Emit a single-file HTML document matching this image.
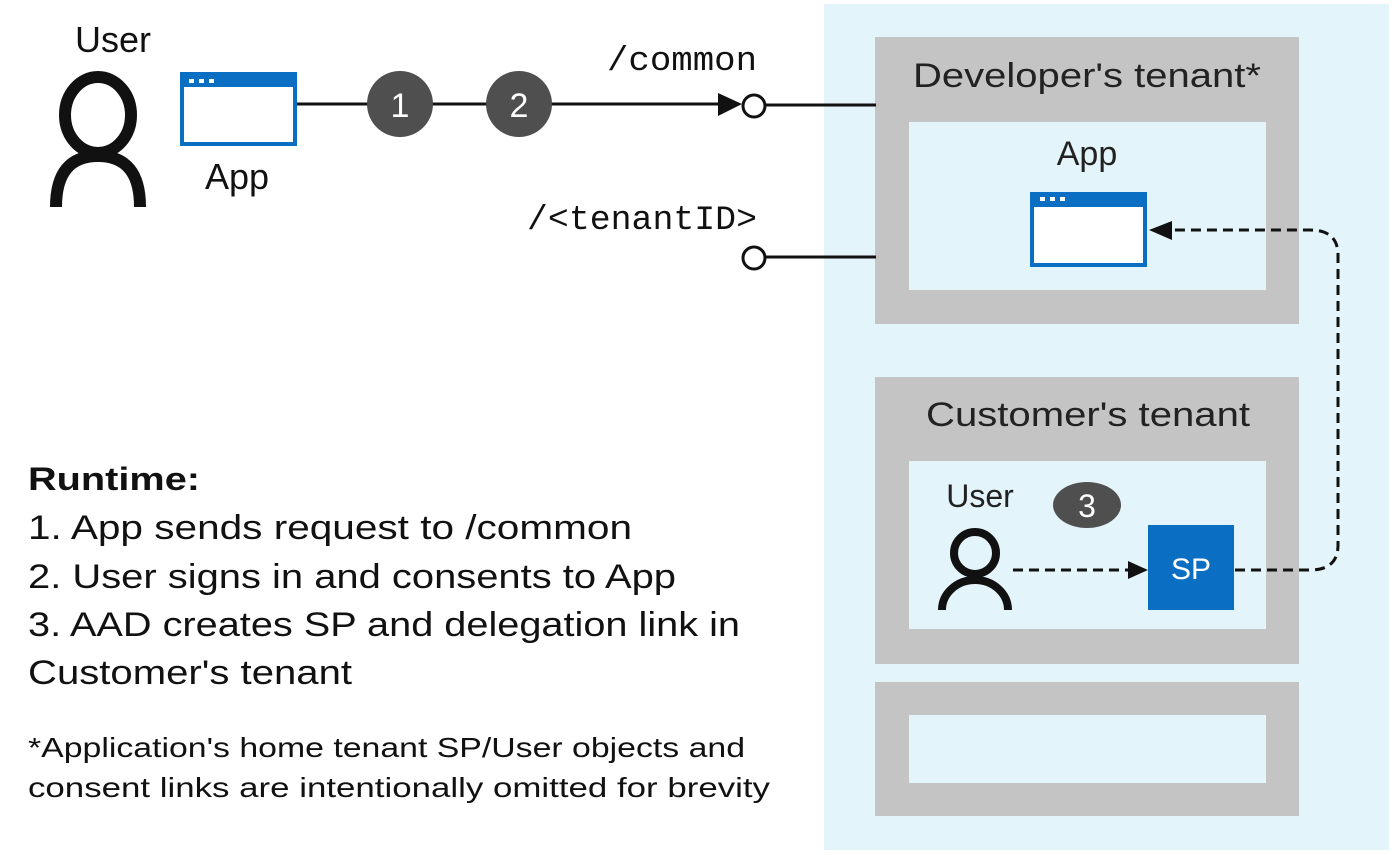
<!DOCTYPE html>
<html><head><style>html,body{margin:0;padding:0;background:#fff}svg{display:block}</style></head>
<body>
<svg width="1400" height="855" viewBox="0 0 1400 855" xmlns="http://www.w3.org/2000/svg" font-family="Liberation Sans, sans-serif">
<rect x="824" y="4" width="565" height="846" fill="#e3f4fa"/>
<rect x="875" y="37" width="424" height="287" fill="#c4c4c4"/>
<rect x="909" y="122" width="357" height="168" fill="#e3f4fa"/>
<rect x="875" y="377" width="424" height="287" fill="#c4c4c4"/>
<rect x="909" y="461" width="357" height="168" fill="#e3f4fa"/>
<rect x="875" y="682" width="424" height="134" fill="#c4c4c4"/>
<rect x="909" y="715" width="357" height="68" fill="#e3f4fa"/>
<text x="1087" y="87" font-size="34" text-anchor="middle" fill="#222" textLength="348" lengthAdjust="spacingAndGlyphs">Developer's tenant*</text>
<text x="1087" y="165" font-size="34" text-anchor="middle" fill="#222">App</text>
<text x="1088" y="426" font-size="34" text-anchor="middle" fill="#222" textLength="324" lengthAdjust="spacingAndGlyphs">Customer's tenant</text>
<text x="980" y="507" font-size="32" text-anchor="middle" fill="#222">User</text>
<rect x="1030" y="192" width="117" height="75" fill="#0a6fc2"/>
<rect x="1034" y="207" width="109" height="56" fill="#fff"/>
<rect x="1040" y="197" width="5" height="4" fill="#fff"/><rect x="1050" y="197" width="5" height="4" fill="#fff"/><rect x="1060" y="197" width="5" height="4" fill="#fff"/>
<rect x="1148" y="525" width="86" height="85" fill="#0a6fc2"/>
<text x="1191" y="579" font-size="30" text-anchor="middle" fill="#fff">SP</text>
<ellipse cx="1087" cy="505" rx="34" ry="23" fill="#4f4f4f"/>
<text x="1087" y="517" font-size="32" text-anchor="middle" fill="#fff">3</text>
<circle cx="975" cy="553" r="21" fill="none" stroke="#111" stroke-width="8"/>
<path d="M942 610 A33 30 0 0 1 1008 610" fill="none" stroke="#111" stroke-width="8"/>
<line x1="1013" y1="570" x2="1130" y2="570" stroke="#111" stroke-width="3" stroke-dasharray="10,6"/>
<polygon points="1148,570 1128,561 1128,579" fill="#111"/>
<path d="M1235 570 H1310 Q1338 570 1338 545 V255 Q1338 230 1310 230 H1170" fill="none" stroke="#111" stroke-width="3" stroke-dasharray="10,6"/>
<polygon points="1149,230 1172,221 1172,240" fill="#111"/>
<text x="113" y="52" font-size="36" text-anchor="middle" fill="#111">User</text>
<ellipse cx="98" cy="115" rx="33" ry="38" fill="none" stroke="#111" stroke-width="12"/>
<path d="M56 207 Q56 156 98 156 Q140 156 140 207" fill="none" stroke="#111" stroke-width="12"/>
<rect x="180" y="72" width="117" height="74" fill="#0a6fc2"/>
<rect x="184" y="87" width="109" height="55" fill="#fff"/>
<rect x="189" y="79" width="5" height="4" fill="#fff"/><rect x="199" y="79" width="5" height="4" fill="#fff"/><rect x="209" y="79" width="5" height="4" fill="#fff"/>
<text x="237" y="189" font-size="36" text-anchor="middle" fill="#111">App</text>
<line x1="297" y1="104" x2="722" y2="104" stroke="#111" stroke-width="3"/>
<polygon points="742,104 718,93 718,116" fill="#111"/>
<circle cx="400" cy="104" r="33" fill="#4f4f4f"/>
<text x="400" y="117" font-size="34" text-anchor="middle" fill="#fff">1</text>
<circle cx="519" cy="104" r="33" fill="#4f4f4f"/>
<text x="519" y="117" font-size="34" text-anchor="middle" fill="#fff">2</text>
<circle cx="754" cy="106" r="11" fill="#fff" stroke="#111" stroke-width="3"/>
<line x1="765" y1="105" x2="876" y2="105" stroke="#111" stroke-width="3"/>
<circle cx="754" cy="258" r="11" fill="#fff" stroke="#111" stroke-width="3"/>
<line x1="765" y1="257" x2="876" y2="257" stroke="#111" stroke-width="3"/>
<text x="607" y="70" font-size="34" font-family="Liberation Mono, monospace" fill="#111" textLength="150" lengthAdjust="spacingAndGlyphs">/common</text>
<text x="527" y="229" font-size="34" font-family="Liberation Mono, monospace" fill="#111" textLength="230" lengthAdjust="spacingAndGlyphs">/&lt;tenantID&gt;</text>
<text x="28" y="490" font-size="32" font-weight="bold" fill="#111" textLength="172" lengthAdjust="spacingAndGlyphs">Runtime:</text>
<text x="28" y="539" font-size="34" fill="#111" textLength="604" lengthAdjust="spacingAndGlyphs">1. App sends request to /common</text>
<text x="28" y="588" font-size="34" fill="#111" textLength="648" lengthAdjust="spacingAndGlyphs">2. User signs in and consents to App</text>
<text x="28" y="636" font-size="34" fill="#111" textLength="712" lengthAdjust="spacingAndGlyphs">3. AAD creates SP and delegation link in</text>
<text x="28" y="684" font-size="34" fill="#111" textLength="324" lengthAdjust="spacingAndGlyphs">Customer's tenant</text>
<text x="28" y="757" font-size="28" fill="#111" textLength="717" lengthAdjust="spacingAndGlyphs">*Application's home tenant SP/User objects and</text>
<text x="28" y="797" font-size="28" fill="#111" textLength="742" lengthAdjust="spacingAndGlyphs">consent links are intentionally omitted for brevity</text>
</svg>
</body></html>
